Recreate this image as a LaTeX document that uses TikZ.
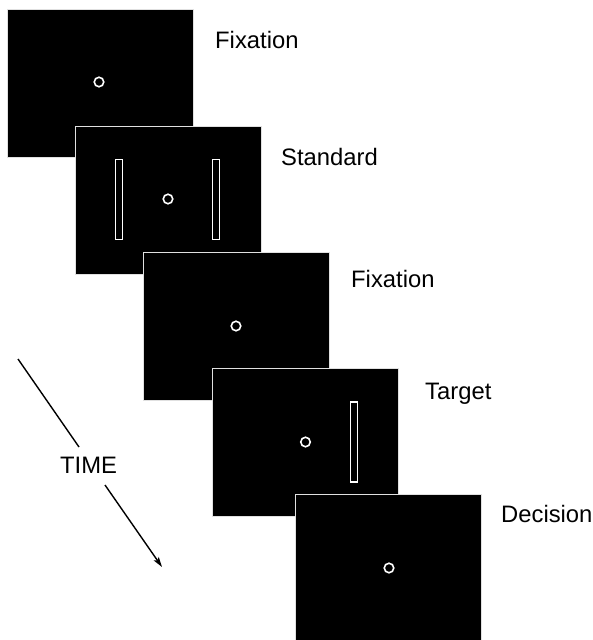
\documentclass[tikz,border=0pt]{standalone}
\usepackage{fontspec}
\setmainfont{Liberation Sans}
\usetikzlibrary{arrows.meta}
\begin{document}
\begin{tikzpicture}[x=1pt,y=-1pt,
  screen/.style={draw=white!88!black,line width=1pt,fill=black,
    minimum width=186pt,minimum height=148pt,inner sep=0pt,anchor=north west},
  fixdot/.style={draw=white,line width=1.6pt,circle,minimum size=9.5pt,inner sep=0pt},
  bar/.style={draw=white,line width=1.4pt,fill=black,minimum width=7pt,
    minimum height=80pt,inner sep=0pt},
  label/.style={anchor=base west,inner sep=0pt,font=\fontsize{23.8}{27}\selectfont},
  timeline/.style={line width=1.4pt}]
\useasboundingbox (0,0) rectangle (592,640);
\fill[white] (0,0) rectangle (592,640);

% screen 1: fixation
\node[screen] (s1) at (7,9) {};
\node[fixdot] (c1) at (99,82) {};
\node[label] (l1) at (215,48) {Fixation};

% screen 2: standard
\node[screen] (s2) at (75,126) {};
\node[bar] (b2a) at (119,199.5) {};
\node[bar] (b2b) at (216,199.5) {};
\node[fixdot] (c2) at (168,199) {};
\node[label] (l2) at (281,165) {Standard};

% screen 3: fixation
\node[screen] (s3) at (143,252) {};
\node[fixdot] (c3) at (236,326) {};
\node[label] (l3) at (351,287) {Fixation};

% screen 4: target
\node[screen] (s4) at (212,368) {};
\node[bar] (b4) at (354,442) {};
\node[fixdot] (c4) at (305.5,442) {};
\node[label] (l4) at (425,399) {Target};

% screen 5: decision
\node[screen] (s5) at (295,494) {};
\node[fixdot] (c5) at (389,568) {};
\node[label] (l5) at (501,522) {Decision};

% time axis
\node[label] (time) at (60,473) {TIME};
\coordinate (t1) at (18,359);
\coordinate (t2) at (79,447);
\coordinate (t3) at (105,485);
\coordinate (t4) at (162,567);
\draw[timeline] (t1) -- (t2);
\draw[timeline,-{Stealth[length=10pt,width=6pt,inset=2pt]}] (t3) -- (t4);
\end{tikzpicture}
\end{document}
